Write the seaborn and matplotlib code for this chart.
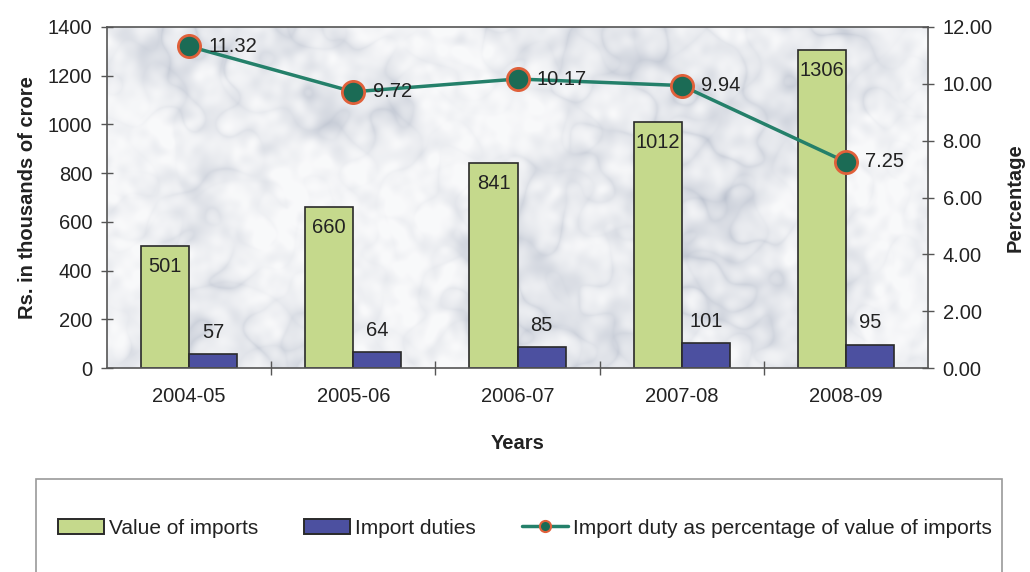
import numpy as np
import pandas as pd
import matplotlib
matplotlib.use("Agg")
import matplotlib.pyplot as plt
import seaborn as sns
from matplotlib.patches import Patch, Rectangle
from matplotlib.lines import Line2D
from matplotlib.ticker import FixedLocator, FormatStrFormatter

# ---- data -------------------------------------------------------------
years = ["2004-05", "2005-06", "2006-07", "2007-08", "2008-09"]
value_of_imports = [501, 660, 841, 1012, 1306]
import_duties = [57, 64, 85, 101, 95]
duty_pct = [11.32, 9.72, 10.17, 9.94, 7.25]

series_names = ["Value of imports", "Import duties"]
line_name = "Import duty as percentage of value of imports"

GREEN = "#c5d98c"
BLUE = "#4c50a0"
LINE = "#24806a"
DOT = "#1b6b55"
RING = "#e0603a"
INK = "#222222"
EDGE = "#2a2a2a"
FS = 14.5

sns.set_theme(style="white")
plt.rcParams["font.family"] = ["Liberation Sans", "DejaVu Sans"]

df = pd.DataFrame({
    "Year": years * 2,
    "Amount": value_of_imports + import_duties,
    "Series": [series_names[0]] * len(years) + [series_names[1]] * len(years),
})

fig = plt.figure(figsize=(10.30, 5.72), dpi=100)
ax = fig.add_axes([107 / 1030, 1 - 368 / 572, (928 - 107) / 1030, (368 - 27) / 572])

# soft marble backdrop for the plotting area
rng = np.random.default_rng(11)
h, w = 340, 820
fy = np.fft.fftfreq(h)[:, None]
fx = np.fft.fftfreq(w)[None, :]
def smooth_noise(scale):
    n = rng.standard_normal((h, w))
    k = np.exp(-((fx ** 2 + fy ** 2) * (np.pi * scale) ** 2))
    out = np.real(np.fft.ifft2(np.fft.fft2(n) * k))
    return (out - out.mean()) / out.std()
n1 = smooth_noise(16) + 0.4 * smooth_noise(35)
n2 = smooth_noise(24)
network = np.exp(-np.abs(n1) / 0.5) * 0.6 + np.exp(-np.abs(n2) / 0.45) * 0.4
blobs = 1 / (1 + np.exp(-2.2 * smooth_noise(55)))
mottle = smooth_noise(6)
dark_amt = np.clip(0.5 * network * (0.3 + 0.9 * blobs) + 0.15 * blobs
                   + 0.05 * mottle, 0, 1)[..., None]
light = np.array([0.975, 0.977, 0.982])
dark = np.array([0.68, 0.71, 0.77])
tex = light - (light - dark) * dark_amt
ax.imshow(tex, extent=(-0.5, 4.5, 0, 1400), aspect="auto", zorder=0,
          interpolation="bilinear")

sns.barplot(data=df, x="Year", y="Amount", hue="Series", ax=ax,
            palette=[GREEN, BLUE], width=0.585, edgecolor=EDGE, linewidth=1.2,
            saturation=1, legend=False, zorder=2)

ax.set_xlim(-0.5, 4.5)
ax.set_ylim(0, 1400)
ax.set_yticks(range(0, 1401, 200))

# value labels on the bars
green_bars = ax.containers[0]
blue_bars = ax.containers[1]
for bar, val in zip(green_bars, value_of_imports):
    ax.annotate(f"{val}", (bar.get_x() + bar.get_width() / 2, val),
                xytext=(0, -8), textcoords="offset points",
                ha="center", va="top", fontsize=FS, color=INK, zorder=5)
for bar, val in zip(blue_bars, import_duties):
    ax.annotate(f"{val}", (bar.get_x() + bar.get_width() / 2, val),
                xytext=(0, 9), textcoords="offset points",
                ha="center", va="bottom", fontsize=FS, color=INK, zorder=5)

# x axis: labels at category centres, tick marks on the boundaries
ax.tick_params(axis="x", which="major", length=0, pad=14, labelsize=FS,
               labelcolor=INK)
ax.xaxis.set_minor_locator(FixedLocator([0.5, 1.5, 2.5, 3.5]))
ax.tick_params(axis="x", which="minor", direction="inout", length=10,
               width=1, color="#555555", bottom=True)
ax.tick_params(axis="y", direction="inout", length=9, width=1,
               color="#555555", labelsize=FS, labelcolor=INK, left=True,
               pad=6)
ax.set_xlabel("Years", fontsize=FS, fontweight="bold", color=INK, labelpad=20)
ax.set_ylabel("Rs. in thousands of crore", fontsize=FS, fontweight="bold",
              color=INK, labelpad=8)

for s in ax.spines.values():
    s.set_color("#555555")
    s.set_linewidth(1.2)

# percentage line on a secondary axis
ax2 = ax.twinx()
x_pos = np.arange(len(years))
sns.lineplot(x=x_pos, y=duty_pct, ax=ax2, color=LINE, linewidth=2.5,
             marker="o", markersize=16, markerfacecolor=DOT,
             markeredgecolor=RING, markeredgewidth=2, zorder=6)
ax2.set_ylim(0, 12)
ax2.set_yticks(np.arange(0, 12.01, 2))
ax2.yaxis.set_major_formatter(FormatStrFormatter("%.2f"))
ax2.tick_params(axis="y", direction="inout", length=9, width=1,
                color="#555555", labelsize=FS, labelcolor=INK, right=True,
                pad=6)
ax2.set_ylabel("Percentage", fontsize=FS, fontweight="bold", color=INK,
               labelpad=9)
ax2.set_xlim(-0.5, 4.5)
for s in ax2.spines.values():
    s.set_visible(False)
for xi, val in zip(x_pos, duty_pct):
    ax2.annotate(f"{val:.2f}", (xi, val), xytext=(14, 0),
                 textcoords="offset points", ha="left", va="center",
                 fontsize=FS, color=INK, zorder=7)

# legend in a framed box beneath the chart
fig.patches.append(Rectangle((36 / 1030, -0.05), (1002 - 36) / 1030,
                             0.05 + (572 - 479) / 572,
                             transform=fig.transFigure, fill=False,
                             edgecolor="#9a9a9a", linewidth=1.2))
handles = [
    Patch(facecolor=GREEN, edgecolor=EDGE, linewidth=1.4, label=series_names[0]),
    Patch(facecolor=BLUE, edgecolor=EDGE, linewidth=1.4, label=series_names[1]),
    Line2D([0], [0], color=LINE, linewidth=2.5, marker="o", markersize=8,
           markerfacecolor=DOT, markeredgecolor=RING, markeredgewidth=1.5,
           label=line_name),
]
fig.legend(handles=handles, loc="center", bbox_to_anchor=(525 / 1030, 1 - 528 / 572),
           ncol=3, frameon=False, fontsize=15, handlelength=2.2,
           handleheight=0.7, handletextpad=0.25, columnspacing=2.2,
           labelcolor=INK)

fig.savefig("out.png", dpi=100)
